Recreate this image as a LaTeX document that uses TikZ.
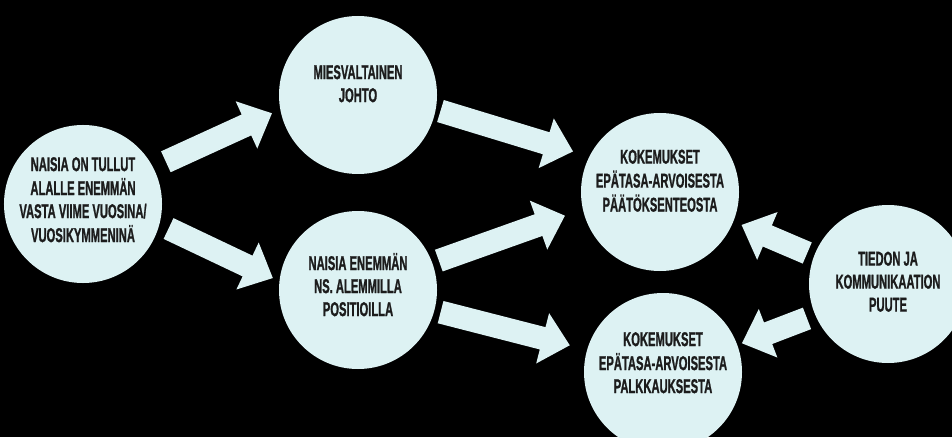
\documentclass[tikz,border=0pt]{standalone}
\usepackage{fontspec}
\newfontfamily\diafont[FakeStretch=0.56, FakeBold=1]{Liberation Sans}
\usepackage{xcolor}
\usetikzlibrary{calc}
\definecolor{bubblecol}{RGB}{221,242,243}
\definecolor{inkcol}{RGB}{28,28,28}

\tikzset{
	bubble/.style={circle, fill=bubblecol, minimum size=158pt, inner sep=0pt, outer sep=0pt, text=inkcol, font=\fontsize{20}{23}\selectfont\diafont\bfseries},
	arrowfill/.style={fill=bubblecol}
}

\newcommand{\lift}[2]{\raisebox{#1}[\height][\depth]{\begin{tabular}{@{}c@{}}#2\end{tabular}}}

\newcommand{\blockarrow}[2]{%
	\coordinate (ba) at #1;
	\coordinate (bb) at #2;
	\coordinate (bh) at ($(bb)!28pt!(ba)$);
	\fill[arrowfill] ($(ba)!11.5pt!90:(bb)$) -- ($(bh)!11.5pt!90:(bb)$) -- ($(bh)!26pt!90:(bb)$) -- (bb) -- ($(bh)!26pt!-90:(bb)$) -- ($(bh)!11.5pt!-90:(bb)$) -- ($(ba)!11.5pt!-90:(bb)$) -- cycle;
}

\begin{document}
\begin{tikzpicture}[x=1pt, y=1pt]
			\fill[black] (0,0) rectangle (952,437);
			\useasboundingbox (0,0) rectangle (952,437);
			\clip (0,0) rectangle (952,437);

			\node[bubble] (alalle) at (83,233) {\lift{2pt}{NAISIA ON TULLUT\\ALALLE ENEMMÄN\\VASTA VIIME VUOSINA/\\VUOSIKYMMENINÄ}};
			\node[bubble] (johto) at (358,342) {\lift{9pt}{MIESVALTAINEN\\JOHTO}};
			\node[bubble] (positiot) at (358,147) {\lift{2pt}{NAISIA ENEMMÄN\\NS. ALEMMILLA\\POSITIOILLA}};
			\node[bubble] (paatos) at (660,245) {\lift{9pt}{KOKEMUKSET\\EPÄTASA-ARVOISESTA\\PÄÄTÖKSENTEOSTA}};
			\node[bubble] (palkkaus) at (663,65) {\lift{7pt}{KOKEMUKSET\\EPÄTASA-ARVOISESTA\\PALKKAUKSESTA}};
			\node[bubble] (puute) at (888,153) {\lift{0pt}{TIEDON JA\\KOMMUNIKAATION\\PUUTE}};

			\blockarrow{($(alalle)+(27:93pt)$)}{($(johto)+(192:88pt)$)}
			\blockarrow{($(alalle)+(-16:89pt)$)}{($(positiot)+(172:86pt)$)}
			\blockarrow{($(johto)+(-11:84pt)$)}{($(paatos)+(155:96pt)$)}
			\blockarrow{($(positiot)+(20:86pt)$)}{($(paatos)+(194:98pt)$)}
			\blockarrow{($(positiot)+(-15:85.5pt)$)}{($(palkkaus)+(164:97pt)$)}
			\blockarrow{($(puute)+(159:86.5pt)$)}{($(paatos)+(-22:88pt)$)}
			\blockarrow{($(puute)+(203:88pt)$)}{($(palkkaus)+(20:84pt)$)}
\end{tikzpicture}
\end{document}
